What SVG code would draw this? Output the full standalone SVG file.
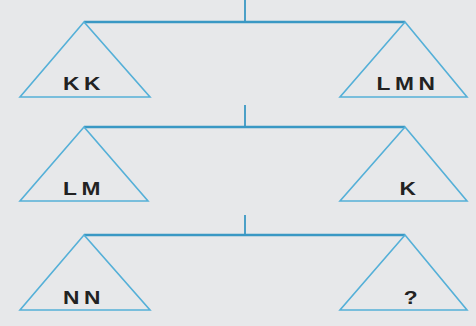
<svg xmlns="http://www.w3.org/2000/svg" width="476" height="326" viewBox="0 0 476 326">
<style>
.beam{stroke:#3a98c4;stroke-width:2.5;fill:none}
.post{stroke:#3a98c4;stroke-width:1.8;fill:none}
.pan{stroke:#55b0d8;stroke-width:1.6;fill:none;stroke-linejoin:miter}
.lbl{font-family:"Liberation Sans",Arial,sans-serif;font-weight:bold;font-size:17.5px;fill:#222;letter-spacing:3.5px;text-anchor:middle}
</style>
<rect width="476" height="326" fill="#e7e8ea"/>
<g id="scale1">
<line class="post" x1="245" y1="0" x2="245" y2="22"/>
<line class="beam" x1="84" y1="22" x2="405" y2="22"/>
<path class="pan" d="M84 22 L20 97 L150 97 Z"/>
<path class="pan" d="M405 22 L340 97 L467 97 Z"/>
<text class="lbl" transform="translate(84,90) scale(1.3,1)">KK</text>
<text class="lbl" transform="translate(408,90) scale(1.3,1)">LMN</text>
</g>
<g id="scale2">
<line class="post" x1="245" y1="105" x2="245" y2="127"/>
<line class="beam" x1="84" y1="127" x2="405" y2="127"/>
<path class="pan" d="M84 127 L20 201 L148 201 Z"/>
<path class="pan" d="M405 127 L340 201 L467 201 Z"/>
<text class="lbl" transform="translate(84,195) scale(1.3,1)">LM</text>
<text class="lbl" transform="translate(410,195) scale(1.3,1)">K</text>
</g>
<g id="scale3">
<line class="post" x1="245" y1="215" x2="245" y2="235"/>
<line class="beam" x1="84" y1="235" x2="405" y2="235"/>
<path class="pan" d="M84 235 L20 310 L150 310 Z"/>
<path class="pan" d="M405 235 L340 310 L467 310 Z"/>
<text class="lbl" transform="translate(84,304) scale(1.3,1)">NN</text>
<text class="lbl" transform="translate(413,304) scale(1.3,1)">?</text>
</g>
</svg>
